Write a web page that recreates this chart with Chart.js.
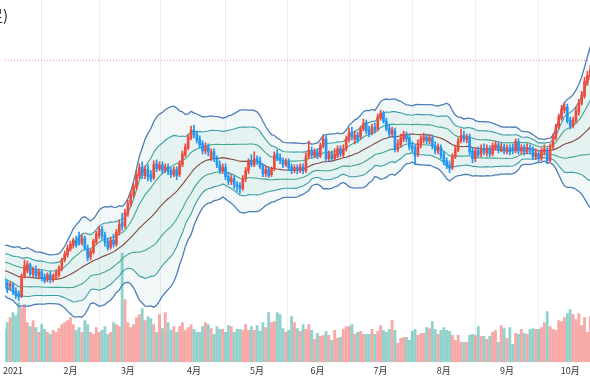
<!DOCTYPE html>
<html><head><meta charset="utf-8">
<script src="https://cdn.jsdelivr.net/npm/chart.js@4.4.1/dist/chart.umd.min.js"></script>
<style>html,body{margin:0;padding:0;background:#fff;overflow:hidden}#wrap{width:590px;height:380px}</style>
</head><body><div id="wrap"><canvas id="c" width="590" height="380"></canvas></div>
<script>
// ---- data (index 0 = first trading day of 2021; first visible candle is index -3) ----
const firstIndex = -3;
const titleText = 'トヨタ自動車 (日足)';
const monthTicks  = [0, 20, 40, 63, 85, 106, 128, 150, 172, 194];
const monthLabels = ['2021', '2月', '3月', '4月', '5月', '6月', '7月', '8月', '9月', '10月'];
const refLine = 2820;
// closes before the visible range (estimated, only feed the 25-day bands)
const preClose = [1825,1810,1835,1815,1795,1805,1785,1770,1790,1810,1785,1765,1745,1760,1775,1750,1725,1735,1755,1730,1705,1715,1695,1710];

const open = [
1715,1700,1685,
1690,1660,1645,1635,1735,1760,1790,1745,1765,1735,
1755,1730,1715,1740,1715,1730,1740,1770,1815,1840,
1870,1890,1915,1935,1900,1925,1875,1830,1855,1905,
1940,1970,1940,1910,1880,1915,1895,1955,2005,1985,
2050,2100,2140,2180,2240,2285,2240,2270,2245,2230,
2300,2275,2295,2270,2285,2265,2245,2270,2245,2295,
2345,2380,2430,2470,2450,2425,2400,2365,2385,2325,
2360,2325,2295,2265,2280,2235,2210,2225,2195,2190,
2175,2225,2265,2315,2295,2325,2315,2285,2250,2270,
2245,2275,2350,2330,2315,2295,2310,2285,2265,2280,
2265,2285,2265,2335,2365,2340,2360,2340,2390,2425,
2325,2350,2325,2340,2375,2345,2375,2420,2460,2425,
2445,2435,2475,2505,2475,2455,2485,2475,2530,2555,
2515,2480,2450,2465,2375,2395,2425,2445,2430,2390,
2380,2350,2395,2420,2435,2415,2430,2390,2365,2380,
2345,2315,2295,2285,2335,2370,2415,2445,2420,2435,
2365,2325,2365,2350,2375,2355,2375,2350,2380,2395,
2370,2385,2365,2380,2380,2365,2410,2365,2380,2360,
2380,2370,2335,2350,2325,2360,2365,2315,2385,2430,
2485,2530,2570,2585,2520,2490,2520,2560,2605,2640,
2710,2740];
const close = [
1685,1665,1695,
1655,1635,1630,1735,1785,1795,1745,1770,1735,1755,
1725,1710,1740,1715,1735,1750,1775,1815,1845,1875,
1895,1915,1890,1900,1925,1875,1825,1860,1910,1945,
1970,1935,1905,1875,1915,1895,1955,1995,1985,2055,
2100,2145,2185,2245,2280,2240,2270,2235,2225,2295,
2275,2295,2265,2285,2260,2245,2270,2240,2300,2350,
2385,2435,2470,2445,2420,2395,2365,2385,2360,2360,
2325,2295,2265,2285,2235,2210,2225,2195,2185,2175,
2225,2265,2310,2295,2325,2310,2285,2250,2270,2240,
2270,2345,2325,2315,2295,2310,2280,2265,2280,2265,
2285,2265,2335,2370,2345,2360,2340,2390,2425,2325,
2350,2325,2350,2375,2350,2375,2425,2460,2435,2445,
2420,2475,2505,2465,2450,2485,2470,2535,2555,2515,
2475,2450,2470,2375,2400,2430,2450,2425,2385,2375,
2340,2400,2425,2435,2415,2430,2390,2365,2385,2340,
2310,2290,2280,2335,2375,2415,2440,2425,2435,2360,
2325,2365,2345,2375,2360,2375,2350,2390,2395,2370,
2385,2365,2380,2360,2365,2410,2365,2380,2360,2380,
2365,2335,2355,2325,2365,2375,2315,2385,2435,2485,
2535,2575,2585,2515,2490,2520,2565,2605,2645,2715,
2745,2775];
const high = [
1730,1715,1705,
1700,1675,1660,1745,1815,1810,1800,1780,1785,1770,
1765,1745,1750,1755,1745,1765,1785,1825,1860,1890,
1910,1925,1935,1955,1945,1935,1890,1870,1920,1960,
1985,1985,1955,1925,1930,1945,1970,2015,2050,2070,
2115,2165,2200,2265,2300,2310,2290,2295,2265,2315,
2320,2310,2310,2300,2300,2280,2285,2285,2315,2365,
2400,2450,2490,2495,2465,2440,2415,2405,2400,2375,
2375,2340,2315,2300,2300,2255,2245,2240,2210,2205,
2240,2280,2325,2345,2360,2340,2335,2300,2285,2285,
2285,2360,2370,2350,2330,2325,2325,2300,2295,2295,
2300,2300,2355,2415,2385,2375,2375,2405,2440,2440,
2365,2365,2375,2390,2390,2395,2440,2480,2485,2465,
2460,2490,2525,2520,2490,2500,2505,2550,2570,2565,
2530,2500,2485,2480,2420,2450,2465,2460,2445,2410,
2395,2420,2440,2455,2450,2445,2445,2410,2400,2395,
2360,2330,2315,2350,2390,2430,2475,2465,2450,2450,
2380,2380,2385,2395,2400,2395,2390,2405,2415,2410,
2405,2400,2395,2395,2400,2425,2425,2395,2395,2400,
2395,2385,2375,2365,2380,2395,2380,2400,2450,2500,
2550,2595,2605,2600,2535,2535,2585,2625,2665,2735,
2765,2795];
const low = [
1675,1650,1665,
1640,1620,1610,1625,1725,1750,1735,1730,1725,1720,
1710,1700,1705,1700,1705,1720,1730,1760,1805,1830,
1860,1875,1880,1890,1890,1865,1810,1815,1845,1895,
1925,1920,1885,1865,1870,1880,1885,1940,1965,1975,
2035,2085,2130,2170,2225,2225,2225,2215,2210,2220,
2260,2265,2250,2255,2245,2230,2235,2220,2235,2285,
2335,2370,2420,2430,2405,2380,2350,2350,2340,2315,
2310,2280,2250,2250,2220,2195,2195,2175,2160,2150,
2165,2210,2250,2285,2285,2295,2275,2235,2235,2230,
2235,2265,2315,2300,2280,2285,2265,2250,2255,2250,
2255,2250,2255,2325,2330,2330,2325,2330,2380,2310,
2315,2310,2315,2330,2335,2335,2365,2410,2420,2400,
2405,2425,2465,2450,2435,2445,2455,2465,2520,2505,
2465,2435,2440,2360,2360,2385,2410,2410,2370,2360,
2295,2335,2380,2405,2400,2400,2375,2350,2350,2325,
2295,2275,2255,2270,2325,2360,2405,2410,2405,2345,
2305,2310,2335,2335,2345,2340,2335,2340,2370,2355,
2360,2350,2350,2345,2350,2355,2350,2350,2345,2350,
2350,2320,2320,2310,2315,2345,2300,2305,2375,2420,
2475,2520,2555,2505,2475,2480,2505,2545,2595,2630,
2695,2725];
const volume = [
33,40,45,
50,47,60,55,58,40,36,42,35,30,
38,33,30,28,32,30,34,38,40,42,
45,38,32,35,30,42,38,30,28,35,
30,32,36,28,30,40,38,36,110,63,
40,35,38,45,48,54,42,46,44,38,
30,48,34,50,40,32,36,30,36,40,
32,35,38,33,30,30,36,40,38,34,
28,36,33,33,30,37,36,30,33,33,
32,38,32,36,32,37,31,40,35,50,
40,41,50,48,34,30,32,46,40,34,
31,38,33,38,32,23,29,26,27,31,
27,22,32,24,25,33,36,36,38,28,
30,31,28,28,28,33,28,31,37,32,
30,33,42,32,19,24,25,25,22,31,
33,27,29,29,35,34,41,33,28,32,
35,32,31,27,22,27,20,20,20,27,
28,27,36,26,26,23,26,30,32,20,
37,34,24,35,18,29,28,33,29,28,
33,34,33,33,35,40,51,36,33,32,
42,41,45,49,53,48,43,49,37,45,
30,46];

// ---- derived ----
const xMin = -2.76, xMax = 200.9;
const xs = close.map((_, k) => firstIndex + k);
const allClose = preClose.concat(close);
const P = 25;
const mid = [], sd = [];
for (let k = 0; k < close.length; k++) {
  const end = preClose.length + k;
  const w = allClose.slice(end - P + 1, end + 1);
  const m = w.reduce((a, b) => a + b, 0) / w.length;
  const v = w.reduce((a, b) => a + (b - m) * (b - m), 0) / w.length;
  mid.push(m); sd.push(Math.sqrt(v));
}
const band = kk => xs.map((x, k) => ({x, y: mid[k] + kk * sd[k]}));
const up = close.map((c, k) => c >= open[k]);
const candleCol = up.map(u => u ? '#ef4a3e' : '#2196f3');
const volCol = up.map(u => u ? 'rgba(239,83,80,0.5)' : 'rgba(38,166,154,0.5)');

const C3 = '#4f7db6', C2 = '#3b9ea6', C1 = '#44a890', CM = '#8c3b30';
const lb = {type: 'line', pointRadius: 0, tension: 0, yAxisID: 'y', xAxisID: 'x', order: 5, fill: false};

const titlePlugin = {
  id: 'cutTitle',
  afterDraw(chart) {
    const ctx = chart.ctx;
    ctx.save();
    ctx.font = '15px "Noto Sans CJK JP", sans-serif';
    ctx.fillStyle = '#222';
    ctx.textAlign = 'right';
    ctx.textBaseline = 'middle';
    ctx.fillText(titleText, 8, 15);
    ctx.restore();
  }
};

new Chart(document.getElementById('c'), {
  type: 'bar',
  data: {
    datasets: [
      {...lb, data: band(3),  borderColor: C3, borderWidth: 1.3, fill: {target: 6}, backgroundColor: 'rgba(70,160,160,0.07)'},
      {...lb, data: band(2),  borderColor: C2, borderWidth: 1.1, fill: {target: 5}, backgroundColor: 'rgba(70,160,160,0.08)'},
      {...lb, data: band(1),  borderColor: C1, borderWidth: 1.1},
      {...lb, data: band(0),  borderColor: CM, borderWidth: 1.1},
      {...lb, data: band(-1), borderColor: C1, borderWidth: 1.1},
      {...lb, data: band(-2), borderColor: C2, borderWidth: 1.1},
      {...lb, data: band(-3), borderColor: C3, borderWidth: 1.3},
      {...lb, data: [{x: xMin, y: refLine}, {x: xMax, y: refLine}], borderColor: 'rgba(236,110,110,0.75)', borderDash: [1, 2], borderWidth: 1, order: 4},
      {type: 'bar', yAxisID: 'yv', data: xs.map((x, k) => ({x, y: volume[k]})), backgroundColor: volCol, barThickness: 2.2, grouped: false, order: 6},
      {type: 'bar', yAxisID: 'y', data: xs.map((x, k) => ({x, y: [low[k], high[k]]})), backgroundColor: candleCol, barThickness: 1, grouped: false, order: 2},
      {type: 'bar', yAxisID: 'y', data: xs.map((x, k) => ({x, y: [open[k], close[k]]})), backgroundColor: candleCol, barThickness: 2, grouped: false, minBarLength: 1, order: 1}
    ]
  },
  options: {
    responsive: false, animation: false, devicePixelRatio: 1,
    layout: {padding: {left: 0, right: 0, top: 0, bottom: 1}},
    plugins: {legend: {display: false}, tooltip: {enabled: false}},
    scales: {
      x: {
        type: 'linear', min: xMin, max: xMax, offset: false,
        afterBuildTicks: axis => { axis.ticks = monthTicks.map(v => ({value: v})); },
        ticks: {autoSkip: false, maxRotation: 0, padding: 3, color: '#333',
          font: {family: '"Noto Sans CJK JP", sans-serif', size: 9},
          callback: v => { const i = monthTicks.indexOf(v); return i >= 0 ? monthLabels[i] : ''; }},
        grid: {color: 'rgba(0,0,0,0.07)', drawTicks: false},
        border: {display: false}
      },
      y: {
        type: 'linear', min: 1300, max: 3125, position: 'left',
        ticks: {display: false, stepSize: 200},
        grid: {drawTicks: false, color: c => (c.tick && c.tick.value % 200 === 0) ? 'rgba(0,0,0,0.06)' : 'rgba(0,0,0,0)'},
        border: {display: false}
      },
      yv: {type: 'linear', min: 0, max: 365, display: false}
    }
  },
  plugins: [titlePlugin]
});
</script>
</body></html>
